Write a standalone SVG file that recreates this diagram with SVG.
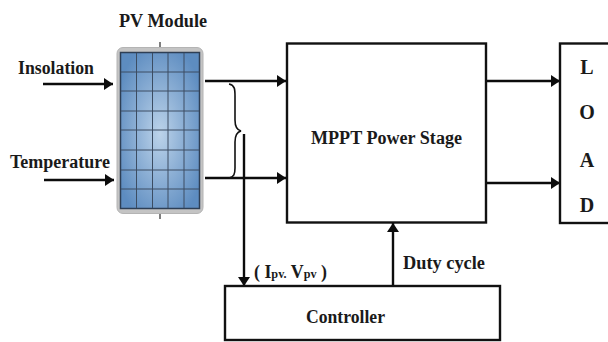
<svg xmlns="http://www.w3.org/2000/svg" width="608" height="342" viewBox="0 0 608 342">
<style>
text{font-family:"Liberation Serif",serif;font-weight:bold;fill:#1a1a1a}
.t{font-size:18.500px}
.l{font-size:20px}
.box{fill:#fff;stroke:#111;stroke-width:2.400}
.c{fill:none;stroke:#0c0c0c;stroke-width:2.400}
.g{stroke:#3c4d62;stroke-width:1;fill:none}
</style>
<defs>
<marker id="a" markerUnits="userSpaceOnUse" markerWidth="10" markerHeight="12" refX="9" refY="6" orient="auto"><path d="M0 0L9 6L0 12Z" fill="#0c0c0c"/></marker>
<radialGradient id="p" cx="50%" cy="52%" r="60%"><stop offset="0" stop-color="#bcd3ea"/><stop offset="1" stop-color="#5d8cc0"/></radialGradient>
</defs>
<rect width="608" height="342" fill="#fff"/>
<g id="connectors">
<path class="c" d="M43 84H113" marker-end="url(#a)"/>
<path class="c" d="M44 180H114" marker-end="url(#a)"/>
<path class="c" d="M205 81H286" marker-end="url(#a)"/>
<path class="c" d="M205 178H286" marker-end="url(#a)"/>
<path class="c" d="M486 81H560" marker-end="url(#a)"/>
<path class="c" d="M486 183H560" marker-end="url(#a)"/>
<path class="c" d="M244 134V286" marker-end="url(#a)"/>
<path class="c" d="M393 286V223" marker-end="url(#a)"/>
<path d="M229 84C235 85 235 90 235 96V120C235 127 237 130 241 131C237 132 235 135 235 142V168C235 174 234 177 229 178" fill="none" stroke="#111" stroke-width="1.600"/>
</g>
<g id="pv-module">
<path d="M160 42V47M160 214V219" stroke="#555" stroke-width="1.500"/>
<rect x="117" y="47.500" width="86" height="166" rx="6" fill="#c4c4c4" stroke="#b4b4b4"/>
<rect x="120.500" y="52.500" width="79" height="156" fill="url(#p)" stroke="#2e3f55" stroke-width="1.500"/>
<path class="g" d="M136.500 53V208M152.500 53V208M168 53V208M184 53V208M121 72H199M121 91H199M121 111H199M121 130H199M121 150H199M121 170H199M121 189H199"/>
<text class="t" x="119" y="27" textLength="88" lengthAdjust="spacingAndGlyphs">PV Module</text>
</g>
<g id="insolation"><text class="t" x="18" y="74" textLength="76" lengthAdjust="spacingAndGlyphs">Insolation</text></g>
<g id="temperature"><text class="t" x="10" y="168" textLength="100" lengthAdjust="spacingAndGlyphs">Temperature</text></g>
<g id="mppt-power-stage">
<rect class="box" x="287" y="43.500" width="199" height="179"/>
<text class="t" x="311" y="144" textLength="151" lengthAdjust="spacingAndGlyphs">MPPT Power Stage</text>
</g>
<g id="load">
<rect class="box" x="560" y="43.500" width="60" height="179.500"/>
<text class="l" x="587" y="74" text-anchor="middle">L</text>
<text class="l" x="587" y="119" text-anchor="middle">O</text>
<text class="l" x="587" y="167" text-anchor="middle">A</text>
<text class="l" x="587" y="212" text-anchor="middle">D</text>
</g>
<g id="controller">
<rect class="box" x="225" y="286" width="275" height="54"/>
<text class="t" x="306" y="323" textLength="79" lengthAdjust="spacingAndGlyphs">Controller</text>
</g>
<g id="labels">
<text class="t" x="403" y="269" textLength="82" lengthAdjust="spacingAndGlyphs">Duty cycle</text>
<text x="254" y="278" font-size="19" textLength="73" lengthAdjust="spacingAndGlyphs">( I<tspan font-size="13">pv.</tspan> V<tspan font-size="13">pv</tspan> )</text>
</g>
</svg>
